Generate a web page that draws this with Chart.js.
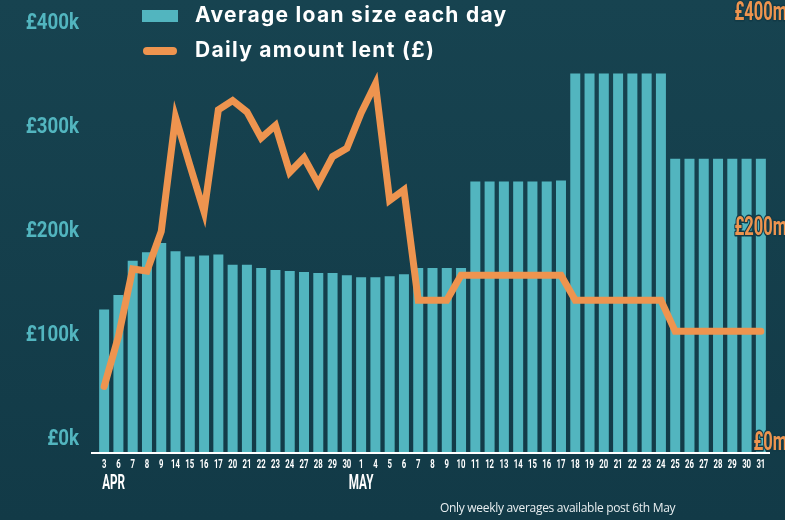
<!DOCTYPE html>
<html>
<head>
<meta charset="utf-8">
<script src="https://cdn.jsdelivr.net/npm/chart.js@4.4.1/dist/chart.umd.min.js"></script>
<style>
  html, body { margin: 0; padding: 0; }
  body { width: 785px; height: 520px; background: linear-gradient(#174350, #123a47); overflow: hidden; }
  #wrap { position: relative; width: 785px; height: 520px; }
  #note { position: absolute; left: 440px; top: 499px; font-family: 'Open Sans', sans-serif; font-size: 12px; color: #e8eef0; letter-spacing: -0.3px; }
</style>
</head>
<body>
<div id="wrap">
  <canvas id="myChart" width="785" height="520"></canvas>
  <div id="note">Only weekly averages available post 6th May</div>
</div>
<script>
// days (April then May)
let days = ['3','6','7','8','9','14','15','16','17','20','21','22','23','24','27','28','29','30',
            '1','4','5','6','7','8','9','10','11','12','13','14','15','16','17','18','19','20','21','22','23','24','25','26','27','28','29','30','31'];
let months = [{ label: 'APR', index: 0 }, { label: 'MAY', index: 18 }];

// average loan size each day (£k)
let avgLoan = [137, 151, 184, 192, 201, 193, 188, 189, 190, 180, 180, 177, 175, 174, 173, 172, 172, 170,
               168, 168, 169, 171, 177, 177, 177, 177, 260, 260, 260, 260, 260, 260, 261,
               364, 364, 364, 364, 364, 364, 364, 282, 282, 282, 282, 282, 282, 282];

// daily amount lent (£m)
let dailyLent = [63, 111, 176, 174, 212, 322, 276, 231, 329, 338, 327, 302, 314, 269, 283, 258, 284, 292,
                 326, 354, 242, 252, 146, 146, 146, 170, 170, 170, 170, 170, 170, 170, 170,
                 146, 146, 146, 146, 146, 146, 146, 116, 116, 116, 116, 116, 116, 116];

let leftTicks = [0, 100, 200, 300, 400];
let rightTicks = [0, 200, 400];

const teal = '#52b5bf';
const orange = '#ee944f';
const axisFont = 'Roboto, sans-serif';

// no condensed font installed, so squeeze the text horizontally
function condensedText(ctx, text, x, y, align, size, sx, color, stroke) {
    ctx.save();
    ctx.font = 'bold ' + size + 'px ' + axisFont;
    ctx.textBaseline = 'middle';
    ctx.textAlign = align;
    ctx.translate(x, y);
    ctx.scale(sx, 1);
    if (stroke) {
        ctx.strokeStyle = stroke;
        ctx.lineWidth = 3;
        ctx.lineJoin = 'round';
        ctx.strokeText(text, 0, 0);
    }
    ctx.fillStyle = color;
    ctx.fillText(text, 0, 0);
    ctx.restore();
}

const extras = {
    id: 'extras',
    beforeDatasetsDraw(chart) {
        const ctx = chart.ctx;
        const x = chart.scales.x;
        // white base line
        ctx.save();
        ctx.fillStyle = '#ffffff';
        ctx.fillRect(x.left - 6, x.top, x.right - x.left + 8, 2);
        ctx.restore();
    },
    afterDraw(chart) {
        const ctx = chart.ctx;
        const x = chart.scales.x;
        const y = chart.scales.y;
        const y1 = chart.scales.y1;

        x.ticks.forEach(function (t, i) {
            condensedText(ctx, t.label, x.getPixelForTick(i), 465, 'center', 12.5, 0.62, '#ffffff');
        });
        months.forEach(function (m) {
            let px = x.getPixelForValue(m.index);
            if (m.index === 0) {
                condensedText(ctx, m.label, px - 2, 484, 'left', 19.5, 0.6, '#ffffff');
            } else {
                condensedText(ctx, m.label, px, 484, 'center', 19.5, 0.6, '#ffffff');
            }
        });
        y.ticks.forEach(function (t) {
            condensedText(ctx, t.label, 79, y.getPixelForValue(t.value) - 12.5, 'right', 22, 0.85, teal);
        });
        y1.ticks.forEach(function (t) {
            let off = -8 - 14 * t.value / y1.max;
            condensedText(ctx, t.label, 787, y1.getPixelForValue(t.value) + off, 'right', 25, 0.66, orange, '#123a47');
        });

        // legend
        ctx.save();
        ctx.fillStyle = teal;
        ctx.fillRect(142, 10, 36, 12);
        ctx.strokeStyle = orange;
        ctx.lineWidth = 8;
        ctx.lineCap = 'round';
        ctx.beginPath();
        ctx.moveTo(147, 51);
        ctx.lineTo(173, 51);
        ctx.stroke();
        ctx.fillStyle = '#ffffff';
        ctx.font = 'bold 21px Inter, sans-serif';
        ctx.letterSpacing = '1.3px';
        ctx.textAlign = 'left';
        ctx.textBaseline = 'middle';
        ctx.fillText(chart.data.datasets[1].label, 195, 16);
        ctx.fillText(chart.data.datasets[0].label, 195, 51);
        ctx.restore();
    }
};

function drawChart() {
    const ctx = document.getElementById('myChart').getContext('2d');
    new Chart(ctx, {
        data: {
            labels: days,
            datasets: [{
                type: 'line',
                label: 'Daily amount lent (£)',
                data: dailyLent,
                yAxisID: 'y1',
                borderColor: orange,
                borderWidth: 7,
                borderCapStyle: 'round',
                borderJoinStyle: 'miter',
                pointRadius: 0,
                tension: 0,
                order: 0
            }, {
                type: 'bar',
                label: 'Average loan size each day',
                data: avgLoan,
                yAxisID: 'y',
                backgroundColor: teal,
                barPercentage: 0.7,
                categoryPercentage: 1,
                order: 1
            }]
        },
        options: {
            responsive: false,
            animation: false,
            layout: { padding: { top: 36, left: 0, right: 0, bottom: 0 } },
            plugins: {
                legend: { display: false },
                tooltip: { enabled: false }
            },
            scales: {
                x: {
                    grid: { display: false },
                    border: { display: false },
                    ticks: { display: false, autoSkip: false },
                    afterFit(scale) { scale.height = 68; }
                },
                y: {
                    position: 'left',
                    min: 0,
                    max: 400,
                    grid: { display: false, drawTicks: false },
                    border: { display: false },
                    afterBuildTicks(scale) { scale.ticks = leftTicks.map(v => ({ value: v })); },
                    ticks: { display: false, callback: v => '£' + v + 'k' },
                    afterFit(scale) { scale.width = 97; }
                },
                y1: {
                    position: 'right',
                    min: 0,
                    max: 400,
                    grid: { display: false, drawTicks: false },
                    border: { display: false },
                    afterBuildTicks(scale) { scale.ticks = rightTicks.map(v => ({ value: v })); },
                    ticks: { display: false, callback: v => '£' + v + 'm' },
                    afterFit(scale) { scale.width = 17; }
                }
            }
        },
        plugins: [extras]
    });
}

drawChart();
</script>
</body>
</html>
